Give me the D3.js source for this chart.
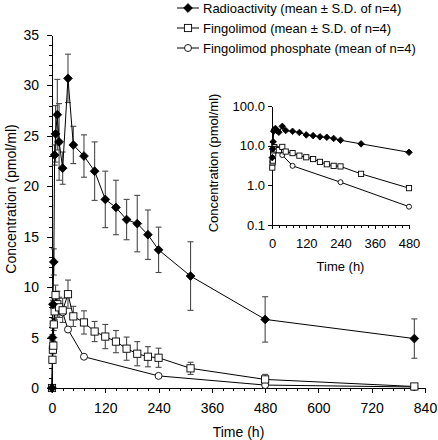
<!DOCTYPE html>
<html><head><meta charset="utf-8">
<script src="https://cdn.jsdelivr.net/npm/d3@7"></script>
<style>body{margin:0;background:#fff}svg{display:block}text{font-family:"Liberation Sans",Arial,sans-serif;fill:#000}</style>
</head><body>
<script>
// ---- data ----
const radTime = [0,1,2,4,6,8,12,16,24,36,48,72,96,120,144,168,192,216,240,312,480,816];
const radMean = [0,5.0,8.3,12.5,23.1,25.2,27.1,24.4,21.8,30.7,24.1,23.0,21.5,18.7,17.9,16.7,16.3,15.2,13.7,11.1,6.8,4.9];
const radSD   = [0,0.3,0.4,1.3,1.0,2.8,3.5,3.8,1.6,2.4,1.85,2.1,2.9,2.8,2.7,2.0,2.8,2.45,2.25,3.4,2.25,1.95];

const fingTime = [0,1,2,3,4,6,8,12,16,24,36,48,72,96,120,144,168,192,216,240,312,480,816];
const fingMean = [0,2.8,3.8,4.2,6.3,7.6,9.2,8.3,8.0,7.7,9.3,7.1,6.5,5.6,5.1,4.6,3.9,3.4,3.1,3.0,1.95,0.85,0.15];
const fingSD   = [0,0.3,0.4,0.4,0.6,0.8,1.0,1.3,1.0,1.2,1.4,1.0,1.15,1.0,1.2,1.1,1.15,1.2,1.0,0.95,0.6,0.5,0.1];

const phosTime = [0,2,4,8,12,24,36,72,240,480,816];
const phosMean = [0,3.9,6.4,7.9,8.1,7.5,5.8,3.1,1.2,0.29,0.1];

const seriesNames = ["Radioactivity (mean \u00b1 S.D. of n=4)","Fingolimod (mean \u00b1 S.D. of n=4)","Fingolimod phosphate (mean of n=4)"];
const xMajorTicks = [0,120,240,360,480,600,720,840];
const yMajorTicks = [0,5,10,15,20,25,30,35];
const insetXTicks = [0,120,240,360,480];
const insetYTicks = [0.1,1,10,100];
const insetYLabels = ["0.1","1.0","10.0","100.0"];

// ---- setup ----
const svg = d3.select("body").append("svg").attr("width",438).attr("height",440);
const x = d3.scaleLinear().domain([0,840]).range([52,425]);
const y = d3.scaleLinear().domain([0,35]).range([388,35]);
const xi = d3.scaleLinear().domain([0,480]).range([272,409]);
const yi = d3.scaleLog().domain([0.1,100]).range([225,106]);

const rad = radTime.map((t,i)=>({t,v:radMean[i],sd:radSD[i]}));
const fing = fingTime.map((t,i)=>({t,v:fingMean[i],sd:fingSD[i]}));
const phos = phosTime.map((t,i)=>({t,v:phosMean[i]}));

function styleAxis(g){ g.selectAll("path,line").attr("stroke","#000").attr("shape-rendering","crispEdges"); g.select(".domain").attr("stroke-width",1); }

// main axes
const gxMinor = svg.append("g").attr("transform","translate(0,388)")
  .call(d3.axisBottom(x).tickValues(d3.range(0,841,24)).tickSize(3).tickFormat(""));
gxMinor.select(".domain").remove(); styleAxis(gxMinor);
const gx = svg.append("g").attr("transform","translate(0,388)")
  .call(d3.axisBottom(x).tickValues(xMajorTicks).tickSize(5).tickSizeOuter(0).tickPadding(10).tickFormat(d3.format("d")));
styleAxis(gx); gx.selectAll("text").attr("font-size",14).attr("font-family","Liberation Sans, Arial");
const gyMinor = svg.append("g").attr("transform","translate(52,0)")
  .call(d3.axisLeft(y).tickValues(d3.range(0,36,1)).tickSize(3).tickFormat(""));
gyMinor.select(".domain").remove(); styleAxis(gyMinor);
const gy = svg.append("g").attr("transform","translate(52,0)")
  .call(d3.axisLeft(y).tickValues(yMajorTicks).tickSize(5).tickSizeOuter(0).tickPadding(8).tickFormat(d3.format("d")));
styleAxis(gy); gy.selectAll("text").attr("font-size",14).attr("font-family","Liberation Sans, Arial");

svg.append("text").attr("x",238.5).attr("y",437).attr("text-anchor","middle").attr("font-size",14).text("Time (h)");
svg.append("text").attr("transform","translate(16,199) rotate(-90)").attr("text-anchor","middle").attr("font-size",14).text("Concentration (pmol/ml)");

// symbols
const diamond = (s)=>`M0,${-s}L${s},0L0,${s}L${-s},0Z`;
function drawMarker(g, type, cx, cy, s){
  if(type==="d") g.append("path").attr("d",diamond(s)).attr("transform",`translate(${cx},${cy})`).attr("fill","#000").attr("stroke","#000").attr("stroke-width",0.8);
  else if(type==="s") g.append("rect").attr("x",cx-s).attr("y",cy-s).attr("width",2*s).attr("height",2*s).attr("fill","#fff").attr("stroke","#000").attr("stroke-width",0.9);
  else g.append("circle").attr("cx",cx).attr("cy",cy).attr("r",s).attr("fill","#fff").attr("stroke","#000").attr("stroke-width",0.9);
}

// error bars (main)
const eb = svg.append("g").attr("stroke","#4a4a4a").attr("stroke-width",1.1);
[rad,fing].forEach(ser=>ser.filter(d=>d.sd>0).forEach(d=>{
  const cx=x(d.t), y1=y(d.v+d.sd), y2=y(Math.max(0,d.v-d.sd));
  eb.append("line").attr("x1",cx).attr("x2",cx).attr("y1",y1).attr("y2",y2);
  eb.append("line").attr("x1",cx-3).attr("x2",cx+3).attr("y1",y1).attr("y2",y1);
  eb.append("line").attr("x1",cx-3).attr("x2",cx+3).attr("y1",y2).attr("y2",y2);
}));

// lines main
const lineM = d3.line().x(d=>x(d.t)).y(d=>y(d.v));
[phos,fing,rad].forEach(ser=>svg.append("path").datum(ser).attr("d",lineM).attr("fill","none").attr("stroke","#000").attr("stroke-width",1));

const mk = svg.append("g");
phos.forEach(d=>drawMarker(mk,"c",x(d.t),y(d.v),3.5));
fing.forEach(d=>drawMarker(mk,"s",x(d.t),y(d.v),3.6));
rad.forEach(d=>drawMarker(mk,"d",x(d.t),y(d.v),4.4));

// legend
const leg = svg.append("g");
const legTypes=["d","s","c"], legSizes=[4.4,3.6,3.5];
seriesNames.forEach((n,i)=>{
  const cy = 8+i*20;
  leg.append("line").attr("x1",177).attr("x2",199).attr("y1",cy).attr("y2",cy).attr("stroke","#000");
  drawMarker(leg,legTypes[i],188,cy,legSizes[i]);
  leg.append("text").attr("x",203).attr("y",cy+4.5).attr("font-size",13).text(n);
});

// inset
const gix = svg.append("g").attr("transform","translate(0,225)")
  .call(d3.axisBottom(xi).tickValues(d3.range(0,481,24)).tickSize(3).tickSizeOuter(0).tickFormat(""));
styleAxis(gix);
const gixL = svg.append("g").attr("transform","translate(0,225)")
  .call(d3.axisBottom(xi).tickValues(insetXTicks).tickSize(4).tickPadding(10).tickFormat(d3.format("d")));
gixL.select(".domain").remove(); styleAxis(gixL); gixL.selectAll("text").attr("font-size",13).attr("font-family","Liberation Sans, Arial");
const giy = svg.append("g").attr("transform","translate(272,0)")
  .call(d3.axisLeft(yi).tickValues(insetYTicks).tickSize(4).tickSizeOuter(0).tickPadding(3).tickFormat((d,i)=>insetYLabels[i]));
styleAxis(giy); giy.selectAll("text").attr("font-size",13).attr("font-family","Liberation Sans, Arial");
svg.append("text").attr("x",340.5).attr("y",271).attr("text-anchor","middle").attr("font-size",13).text("Time (h)");
svg.append("text").attr("transform","translate(218,163) rotate(-90)").attr("text-anchor","middle").attr("font-size",13).text("Concentration (pmol/ml)");

const inF = d=>d.v>0 && d.t<=480;
const lineI = d3.line().x(d=>xi(d.t)).y(d=>yi(d.v));
[phos,fing,rad].forEach(ser=>svg.append("path").datum(ser.filter(inF)).attr("d",lineI).attr("fill","none").attr("stroke","#000").attr("stroke-width",1));
const mi = svg.append("g");
phos.filter(inF).forEach(d=>drawMarker(mi,"c",xi(d.t),yi(d.v),2.5));
fing.filter(inF).forEach(d=>drawMarker(mi,"s",xi(d.t),yi(d.v),2.6));
rad.filter(inF).forEach(d=>drawMarker(mi,"d",xi(d.t),yi(d.v),3.3));
</script>
</body></html>
